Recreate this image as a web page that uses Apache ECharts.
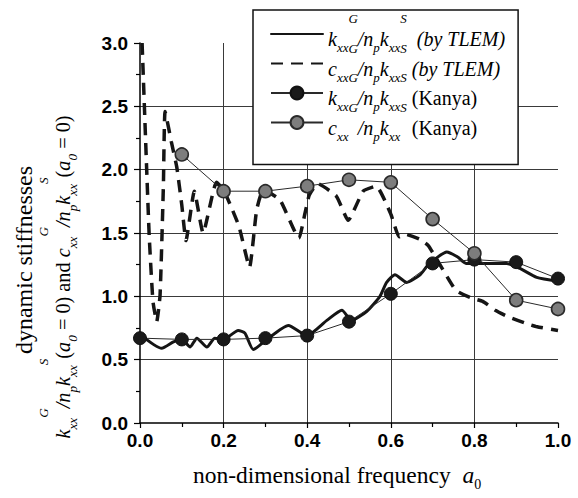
<!DOCTYPE html>
<html><head><meta charset="utf-8">
<script src="https://cdn.jsdelivr.net/npm/echarts@6/dist/echarts.min.js"></script>
<style>html,body{margin:0;padding:0;background:#fff}#c{width:578px;height:498px}</style>
</head><body><div id="c"></div>
<script>
// ---- data ----
const xTicks = [0.0, 0.2, 0.4, 0.6, 0.8, 1.0];
const yTicks = [0.0, 0.5, 1.0, 1.5, 2.0, 2.5, 3.0];

const kanyaFreq = [0.0, 0.1, 0.2, 0.3, 0.4, 0.5, 0.6, 0.7, 0.8, 0.9, 1.0];
const kanyaK    = [0.67, 0.66, 0.66, 0.67, 0.69, 0.80, 1.02, 1.26, 1.29, 1.27, 1.14];
const kanyaC    = [null, 2.12, 1.83, 1.83, 1.87, 1.92, 1.90, 1.61, 1.34, 0.97, 0.90];

const tlemKFreq = [0.000, 0.052, 0.080, 0.100, 0.120, 0.136, 0.160, 0.179, 0.200, 0.235, 0.251, 0.271, 0.300, 0.355, 0.399, 0.447, 0.483, 0.506, 0.542, 0.574, 0.590, 0.610, 0.638, 0.670, 0.690, 0.734, 0.760, 0.780, 0.830, 0.877, 0.909, 0.949, 1.000];
const tlemK     = [0.70, 0.59, 0.64, 0.66, 0.60, 0.67, 0.60, 0.67, 0.66, 0.73, 0.71, 0.58, 0.65, 0.77, 0.69, 0.81, 0.89, 0.81, 0.88, 1.00, 1.11, 1.17, 1.11, 1.17, 1.25, 1.35, 1.31, 1.26, 1.26, 1.26, 1.22, 1.15, 1.12];

const tlemCFreq = [0.005, 0.016, 0.022, 0.031, 0.040, 0.048, 0.056, 0.060, 0.075, 0.088, 0.100, 0.110, 0.130, 0.151, 0.183, 0.200, 0.215, 0.237, 0.262, 0.279, 0.295, 0.335, 0.380, 0.395, 0.405, 0.425, 0.470, 0.498, 0.534, 0.565, 0.600, 0.620, 0.635, 0.670, 0.690, 0.755, 0.790, 0.820, 0.850, 0.880, 0.920, 0.950, 1.000];
const tlemC     = [3.00, 2.00, 1.48, 0.96, 0.80, 1.01, 1.88, 2.46, 2.22, 2.02, 1.72, 1.44, 1.83, 1.50, 1.90, 1.84, 1.73, 1.55, 1.23, 1.68, 1.84, 1.76, 1.46, 1.66, 1.80, 1.89, 1.79, 1.60, 1.83, 1.87, 1.65, 1.47, 1.49, 1.45, 1.40, 1.05, 0.99, 0.96, 0.89, 0.84, 0.79, 0.76, 0.73];

const seriesNames = ['kTLEM', 'cTLEM', 'kKanya', 'cKanya'];

// ---- helpers ----
const zip = (xs, ys) => xs.map((x, i) => [x, ys[i]]).filter(p => p[1] !== null);
const frac = (s) => '{m|' + s + '}{sb|xx}{sp|G}{m|/n}{sb|p}{m|k}{sb|xx}{sp|S}';
const legendText = {
  kTLEM: frac('k') + '{m|  (by TLEM)}',
  cTLEM: frac('c') + '{m| (by TLEM)}',
  kKanya: frac('k') + '{r| (Kanya)}',
  cKanya: frac('c') + '{r| (Kanya)}'
};
const SERIF = 'Liberation Serif';
const richLegend = {
  m:  {fontFamily: SERIF, fontStyle: 'italic', fontSize: 20, color: '#000', padding: [10, 0, 0, 0]},
  r:  {fontFamily: SERIF, fontStyle: 'normal', fontSize: 20, color: '#000', padding: [10, 0, 0, 0]},
  sb: {fontFamily: SERIF, fontStyle: 'italic', fontSize: 13, color: '#000', padding: [27, 0, 0, 0]},
  sp: {fontFamily: SERIF, fontStyle: 'italic', fontSize: 13, color: '#000', padding: [0, 0, 31, 0]}
};
const richAxis = {
  m:  {fontFamily: SERIF, fontStyle: 'italic', fontSize: 20.3, fill: '#000', padding: [10, 0, 0, 0]},
  r:  {fontFamily: SERIF, fontStyle: 'normal', fontSize: 20.3, fill: '#000', padding: [10, 0, 0, 0]},
  sb: {fontFamily: SERIF, fontStyle: 'italic', fontSize: 13.2, fill: '#000', padding: [28, 0, 0, 0]},
  sp: {fontFamily: SERIF, fontStyle: 'italic', fontSize: 13.2, fill: '#000', padding: [0, 0, 29, 0]}
};
const yTitle2 = frac('k') + '{r|(}{m|a}{sb|0}{r| = 0) and }' + frac('c') + '{r|(}{m|a}{sb|0}{r| = 0)}';

const chart = echarts.init(document.getElementById('c'), null, {renderer: 'svg'});
const tickStyle = {color: '#000', width: 1.2};
const labelStyle = {color: '#000', fontFamily: 'Liberation Sans', fontSize: 19, fontWeight: 'bold'};
const hiddenSymbol = {color: 'rgba(0,0,0,0)', borderColor: 'rgba(0,0,0,0)', borderWidth: 0};

chart.setOption({
  animation: false,
  backgroundColor: '#fff',
  grid: {left: 140, right: 20, top: 43, bottom: 75, containLabel: false, outerBoundsMode: 'none'},
  xAxis: {
    type: 'value', min: xTicks[0], max: xTicks[xTicks.length - 1], interval: xTicks[1] - xTicks[0],
    axisLine: {show: true, onZero: false, lineStyle: {color: '#000', width: 1.5}},
    axisTick: {show: true, inside: false, length: 5, lineStyle: tickStyle},
    minorTick: {show: true, splitNumber: 2, length: 4, lineStyle: tickStyle},
    axisLabel: Object.assign({margin: 8, formatter: v => v.toFixed(1)}, labelStyle),
    splitLine: {show: true, showMinLine: false, showMaxLine: false, lineStyle: {color: '#3a3a3a', width: 1}},
    minorSplitLine: {show: false}
  },
  yAxis: {
    type: 'value', min: yTicks[0], max: yTicks[yTicks.length - 1], interval: yTicks[1] - yTicks[0],
    axisLine: {show: true, onZero: false, lineStyle: {color: '#000', width: 1.5}},
    axisTick: {show: true, inside: false, length: 6, lineStyle: tickStyle},
    minorTick: {show: true, splitNumber: 2, length: 4, lineStyle: tickStyle},
    axisLabel: Object.assign({margin: 12, formatter: v => v.toFixed(1)}, labelStyle),
    splitLine: {show: true, showMinLine: false, showMaxLine: false, lineStyle: {color: '#3a3a3a', width: 1}},
    minorSplitLine: {show: false}
  },
  legend: {
    orient: 'vertical', left: 253, top: 10,
    padding: [2, 13, 22, 17],
    itemWidth: 52, itemHeight: 16, itemGap: -12.5,
    backgroundColor: '#fff', borderColor: '#111', borderWidth: 1.5, borderRadius: 0,
    selectedMode: false,
    data: [
      {name: seriesNames[0], itemStyle: hiddenSymbol},
      {name: seriesNames[1], itemStyle: hiddenSymbol},
      {name: seriesNames[2]},
      {name: seriesNames[3]}
    ],
    formatter: name => legendText[name],
    textStyle: {color: '#000', fontFamily: SERIF, rich: richLegend}
  },
  graphic: [
    {type: 'text', x: 24, y: 260, rotation: Math.PI / 2,
     style: {text: 'dynamic stiffnesses', fontFamily: SERIF, fontSize: 24, fill: '#000', align: 'center', verticalAlign: 'middle'}},
    {type: 'text', x: 58, y: 277, rotation: Math.PI / 2,
     style: {text: yTitle2, rich: richAxis, fontFamily: SERIF, fontSize: 20.3, fill: '#000', align: 'center', verticalAlign: 'middle'}},
    {type: 'text', x: 337, y: 475,
     style: {text: '{n|non-dimensional frequency  }{i|a}{s|0}', align: 'center', verticalAlign: 'middle',
       rich: {
         n: {fontFamily: SERIF, fontSize: 23.5, fill: '#000'},
         i: {fontFamily: SERIF, fontStyle: 'italic', fontSize: 23.5, fill: '#000'},
         s: {fontFamily: SERIF, fontSize: 14, fill: '#000', padding: [18, 0, 0, 0]}
       }}}
  ],
  series: [
    {name: 'kTLEM', type: 'line', data: zip(tlemKFreq, tlemK), symbol: 'none', smooth: 0.2, z: 4,
     lineStyle: {color: '#151515', width: 3, cap: 'round', join: 'round'}, itemStyle: {color: '#151515'}},
    {name: 'cTLEM', type: 'line', data: zip(tlemCFreq, tlemC), symbol: 'none', smooth: 0.15, z: 4,
     lineStyle: {color: '#151515', width: 3.5, type: [12, 8], cap: 'butt'}, itemStyle: {color: '#151515'}},
    {name: 'kKanya', type: 'line', data: zip(kanyaFreq, kanyaK), symbol: 'circle', symbolSize: 13, z: 5,
     lineStyle: {color: '#2a2a2a', width: 1}, itemStyle: {color: '#1a1a1a', borderColor: '#111', borderWidth: 1}},
    {name: 'cKanya', type: 'line', data: zip(kanyaFreq, kanyaC), symbol: 'circle', symbolSize: 13, z: 5,
     lineStyle: {color: '#2a2a2a', width: 1}, itemStyle: {color: '#7d7d7d', borderColor: '#2a2a2a', borderWidth: 1.6}}
  ]
});
</script>
</body></html>
